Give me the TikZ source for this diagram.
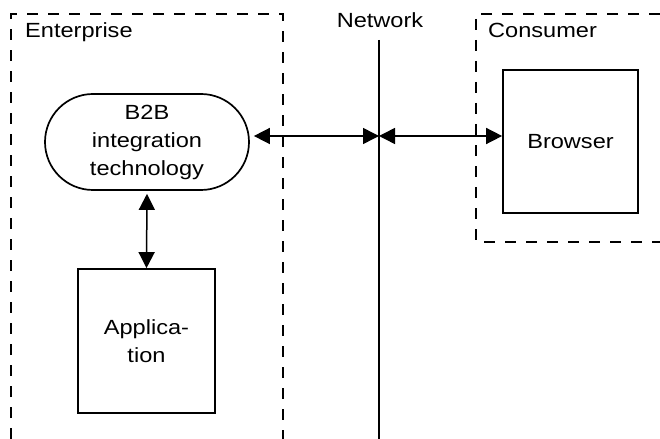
\documentclass[tikz,border=0pt]{standalone}
\usepackage{fontspec}
\setmainfont[FakeStretch=1.15]{Liberation Sans}
\usetikzlibrary{shapes.misc,arrows.meta}
\begin{document}
\begin{tikzpicture}[x=1bp,y=-1bp,
  txt/.style={font=\fontsize{20.5bp}{28bp}\selectfont, inner sep=0pt},
  boxnode/.style={draw, line width=1.7bp, align=center, txt},
  region/.style={dash pattern=on 11bp off 10bp, line width=1.5bp},
  biarrow/.style={line width=1.5bp, {Triangle[length=16bp,width=16bp]}-{Triangle[length=16bp,width=16bp]}},
]
\useasboundingbox (0,0) rectangle (660,439);
% regions
\draw[region] (11,439) -- (11,14) -- (283,14) -- (283,439);
\draw[region] (660,14) -- (476,14) -- (476,242) -- (660,242);
\node[txt, anchor=base west] (entlbl) at (25,38) {Enterprise};
\node[txt, anchor=base west] (conlbl) at (488,38) {Consumer};
\node[txt, anchor=base] (netlbl) at (380,28) {Network};
% network line
\coordinate (nettop) at (379,40);
\coordinate (netbot) at (379,439);
\coordinate (netj) at (379,136);
\draw[line width=1.5bp] (nettop) -- (netbot);
% nodes
\node[boxnode, rounded rectangle, minimum width=204bp, minimum height=96bp] (b2b) at (147,142) {B2B\\integration\\technology};
\node[boxnode, rectangle, minimum width=137bp, minimum height=144bp] (app) at (146.5,341) {Applica-\\tion};
\node[boxnode, rectangle, minimum width=135bp, minimum height=143bp] (browser) at (570.5,141.5) {Browser};
% connectors
\draw[biarrow, shorten <=4bp] (b2b.east |- netj) -- (netj);
\draw[biarrow] (netj) -- (browser.west |- netj);
\draw[biarrow, shorten <=3bp] (b2b.south) -- (app.north);
\end{tikzpicture}
\end{document}
